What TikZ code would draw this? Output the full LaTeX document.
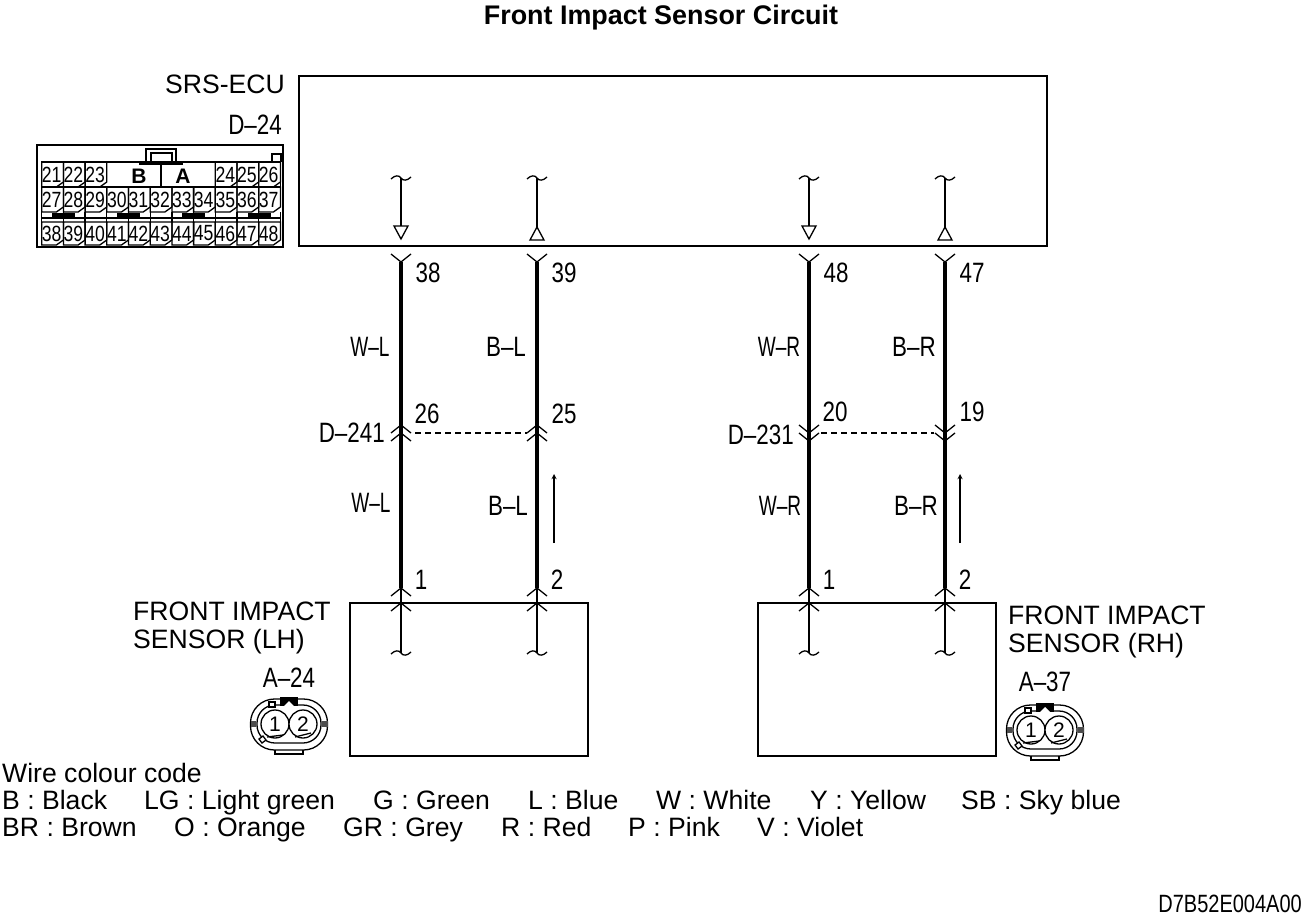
\documentclass[tikz,border=0pt]{standalone}
\usepackage{fontspec}
\setmainfont{Liberation Sans}
\newfontfamily\narrowfont[FakeStretch=0.8]{Liberation Sans}
\newfontfamily\slimfont[FakeStretch=0.68]{Liberation Sans}
\usetikzlibrary{positioning}

\tikzset{
	thinwire/.style={line width=1.3pt},
	thickwire/.style={line width=4pt},
	boxline/.style={line width=1.5pt},
	plain/.style={font=\fontsize{26.6}{28}\selectfont, inner sep=0pt, anchor=base west},
	tag/.style={font=\narrowfont\fontsize{28}{28}\selectfont, inner sep=0pt},
	slimtag/.style={font=\slimfont\fontsize{28}{28}\selectfont, inner sep=0pt},
	pinnum/.style={font=\narrowfont\fontsize{22}{22}\selectfont, inner sep=0pt},
	pics/chevup/.style={code={\draw[thinwire] (-10,8) -- (0,0) -- (10,8);}},
	pics/chevdown/.style={code={\draw[thinwire] (-10,-8) -- (0,0) -- (10,-8);}},
	pics/wavy/.style={code={\draw[thinwire] (-10,1) .. controls (-6,-3) and (-2,-3) .. (0,0) .. controls (2,3) and (6,3) .. (10,-1);}},
	pics/plug/.style n args={3}{code={
		\draw[thinwire, rounded corners=24] (-38.5,-25) rectangle (38.5,26);
		\draw[thinwire, rounded corners=18] (-32,-19) rectangle (32,19);
		\draw[thinwire] (-14,26) -- (-14,30) -- (14,30) -- (14,26);
		\fill[black] (-9,-27) rectangle (9,-18);
		\fill[white] (-5,-18) -- (0,-23) -- (5,-18) -- cycle;
		\draw[thinwire, fill=white] (-20,-22) rectangle (-14,-17);
		\fill[black!70] (-38.5,-3) rectangle (-33,3);
		\fill[black!70] (33,-3) rectangle (38.5,3);
		\draw[thinwire, fill=white] (-30,15) -- (-26,12) -- (-23,16) -- (-27,19) -- cycle;
		\draw[thinwire, fill=white] (-14,0) circle (14);
		\draw[thinwire, fill=white] (14,0) circle (14);
		\draw[thinwire] (-22,13) -- (-6,11);
		\draw[thinwire] (6,13) -- (22,9);
		\node[font=\fontsize{21}{21}\selectfont, inner sep=0pt] (#1a) at (-14,0) {#2};
		\node[font=\fontsize{21}{21}\selectfont, inner sep=0pt] (#1b) at (14,0) {#3};
	}},
}

\newcommand{\pincell}[4]{
	\draw[thinwire] (#1,#2) -- ++(21.7,0) -- ++(0,#3-5) -- ++(-7,5) -- (#1,#2+#3) -- cycle;
	\node[pinnum] (pin#4) at (#1+10,#2+#3/2) {#4};
}

\begin{document}
\begin{tikzpicture}[x=1pt,y=-1pt]

	\useasboundingbox (0,0) rectangle (1302,915);

	\node[plain, font=\bfseries\fontsize{26.9}{28}\selectfont, anchor=center] (title) at (661,18) {Front Impact Sensor Circuit};

	% boxes
	\node[plain, anchor=base east] (ecu) at (285,94) {SRS-ECU};
	\draw[boxline] (299,76) rectangle (1047,246);
	\draw[boxline] (350,603) rectangle (588,756);
	\draw[boxline] (758,603) rectangle (996,756);

	% wires
	\foreach \wire/\xpos in {a/401,b/537,c/809,d/945} {
		\coordinate (\wire top) at (\xpos,178);
		\coordinate (\wire tip) at (\xpos,227);
		\coordinate (\wire start) at (\xpos,262);
		\coordinate (\wire end) at (\xpos,588);
		\coordinate (\wire in) at (\xpos,603);
		\coordinate (\wire low) at (\xpos,653);

		\draw[thinwire] (\wire top) -- (\wire tip);
		\draw[thickwire] (\wire start) -- (\wire end);
		\draw[thinwire] (\wire end) -- (\wire low);

		\pic at (\wire top) {wavy};
		\pic at (\wire low) {wavy};
		\pic at (\wire start) {chevdown};
		\pic at (\wire end) {chevup};
		\pic at (\wire in) {chevup};
	}

	% triangles at the ecu
	\draw[thinwire, fill=white] (394,226) -- (408,226) -- (401,239) -- cycle;
	\draw[thinwire, fill=white] (530,240) -- (544,240) -- (537,227) -- cycle;
	\draw[thinwire, fill=white] (802,226) -- (816,226) -- (809,239) -- cycle;
	\draw[thinwire, fill=white] (938,240) -- (952,240) -- (945,227) -- cycle;

	% joint connectors
	\pic at (401,425) {chevup};
	\pic at (401,433) {chevup};
	\pic at (537,425) {chevup};
	\pic at (537,433) {chevup};
	\pic at (809,433) {chevdown};
	\pic at (809,441) {chevdown};
	\pic at (945,433) {chevdown};
	\pic at (945,441) {chevdown};

	\coordinate (ja) at (415,433);
	\coordinate (jb) at (527,433);
	\coordinate (jc) at (821,433);
	\coordinate (jd) at (934,433);
	\draw[thinwire, dash pattern=on 6pt off 4pt] (ja) -- (jb);
	\draw[thinwire, dash pattern=on 6pt off 4pt] (jc) -- (jd);

	% current arrows
	\coordinate (fa) at (554,543);
	\coordinate (fb) at (554,474);
	\coordinate (fc) at (960,543);
	\coordinate (fd) at (960,474);
	\draw[thinwire, ->, >=stealth] (fa) -- (fb);
	\draw[thinwire, ->, >=stealth] (fc) -- (fd);

	% wire labels
	\node[tag] (p38) at (428,273) {38};
	\node[tag] (p39) at (564,273) {39};
	\node[tag] (p48) at (836,273) {48};
	\node[tag] (p47) at (972,273) {47};

	\node[slimtag] (wl1) at (370,347) {W–L};
	\node[tag] (bl1) at (506,347) {B–L};
	\node[slimtag] (wr1) at (779,347) {W–R};
	\node[tag] (br1) at (914,347) {B–R};

	\node[tag] (p26) at (427,414) {26};
	\node[tag] (p25) at (564,414) {25};
	\node[tag] (p20) at (835,412) {20};
	\node[tag] (p19) at (972,412) {19};

	\node[tag, anchor=east] (dlh) at (385,433) {D–241};
	\node[tag, anchor=east] (drh) at (794,435) {D–231};

	\node[slimtag] (wl2) at (371,503) {W–L};
	\node[tag] (bl2) at (508,506) {B–L};
	\node[slimtag] (wr2) at (780,506) {W–R};
	\node[tag] (br2) at (916,506) {B–R};

	\node[tag] (s1) at (421,580) {1};
	\node[tag] (s2) at (557,580) {2};
	\node[tag] (s3) at (829,580) {1};
	\node[tag] (s4) at (965,580) {2};

	% sensors
	\node[plain, align=left, anchor=west] (lh) at (133,628) {FRONT IMPACT\\SENSOR (LH)};
	\node[plain, align=left, anchor=west] (rh) at (1008,632) {FRONT IMPACT\\SENSOR (RH)};

	\node[tag] (a24) at (289,678) {A–24};
	\node[tag] (a37) at (1045,682) {A–37};
	\pic at (289,724) {plug={pa}{1}{2}};
	\pic at (1045,730) {plug={pb}{1}{2}};

	% ecu connector
	\node[tag, anchor=east] (d24) at (282,125) {D–24};
	\draw[boxline] (37,145) rectangle (283,247);
	\draw[thinwire] (146,162) -- (146,149) -- (176,149) -- (176,162);
	\draw[thinwire] (151,162) -- (151,153) -- (172,153) -- (172,162);
	\draw[thinwire] (272,162) -- (272,154) -- (281,154) -- (281,162);
	\draw[thinwire] (41.7,162) rectangle (280.4,187);
	\draw[thinwire] (139,164) -- (183,164);
	\draw[thinwire] (161,162) -- (161,187);
	\node[font=\bfseries\fontsize{21}{21}\selectfont, inner sep=0pt] (keyb) at (139,176) {B};
	\node[font=\bfseries\fontsize{21}{21}\selectfont, inner sep=0pt] (keya) at (183,176) {A};

	\foreach \n/\c in {21/0,22/1,23/2,24/8,25/9,26/10} {
		\pgfmathsetmacro\cx{41.7+\c*21.7}
		\pincell{\cx}{162}{25}{\n}
	}
	\foreach \c in {0,...,10} {
		\pgfmathsetmacro\cx{41.7+\c*21.7}
		\pgfmathtruncatemacro\n{27+\c}
		\pincell{\cx}{187}{25}{\n}
		\pgfmathtruncatemacro\n{38+\c}
		\pincell{\cx}{222}{23}{\n}
		\draw[thinwire] (\cx,212) -- (\cx,222);
	}
	\draw[thinwire] (41.7,218) -- (280.4,218);
	\draw[thinwire] (280.4,212) -- (280.4,222);
	\foreach \xpos in {52,117,182,248} {
		\fill[black] (\xpos,213) rectangle (\xpos+23,217.5);
	}

	% colour code
	\node[plain] (code) at (2,782) {Wire colour code};
	\node[plain] (k1) at (2,809) {B : Black};
	\node[plain] (k2) at (144,809) {LG : Light green};
	\node[plain] (k3) at (373,809) {G : Green};
	\node[plain] (k4) at (528,809) {L : Blue};
	\node[plain] (k5) at (656,809) {W : White};
	\node[plain] (k6) at (810,809) {Y : Yellow};
	\node[plain] (k7) at (961,809) {SB : Sky blue};
	\node[plain] (k8) at (2,836) {BR : Brown};
	\node[plain] (k9) at (174,836) {O : Orange};
	\node[plain] (k10) at (343,836) {GR : Grey};
	\node[plain] (k11) at (501,836) {R : Red};
	\node[plain] (k12) at (628,836) {P : Pink};
	\node[plain] (k13) at (757,836) {V : Violet};

	\node[tag, anchor=base east, font=\narrowfont\fontsize{25}{24}\selectfont] (ref) at (1302,912) {D7B52E004A00};

\end{tikzpicture}
\end{document}
